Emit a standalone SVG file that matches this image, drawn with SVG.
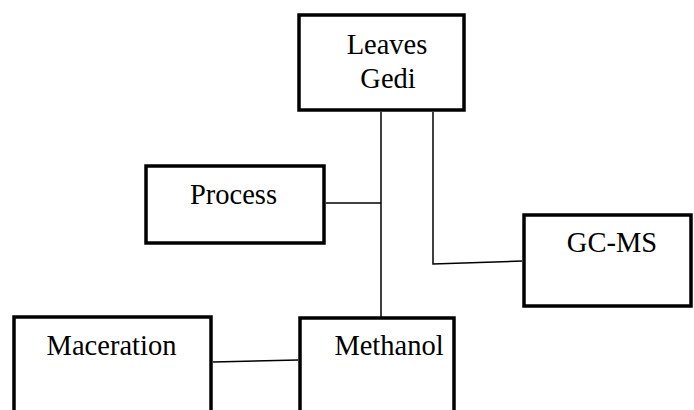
<svg xmlns="http://www.w3.org/2000/svg" width="694" height="410" viewBox="0 0 694 410">
<style>
.box{fill:#fff;stroke:#000;stroke-width:3.5}
.c{fill:none;stroke:#000;stroke-width:1.5}
.t{font-family:'Times New Roman','Liberation Serif',Tinos,serif;font-size:28.5px;fill:#000;text-anchor:middle}
</style>
<rect width="694" height="410" fill="#fff"/>
<g id="connectors">
<line class="c" x1="381" y1="112" x2="381" y2="317"/>
<polyline class="c" points="433,112 433,264 522,261"/>
<line class="c" x1="326" y1="203" x2="381" y2="203"/>
<line class="c" x1="213" y1="362" x2="298" y2="360"/>
</g>
<g id="leaves">
<rect class="box" x="299" y="15" width="165" height="95"/>
<text class="t" x="387" y="54">Leaves</text>
<text class="t" x="388" y="88">Gedi</text>
</g>
<g id="process">
<rect class="box" x="146" y="166" width="178" height="77"/>
<text class="t" x="233.5" y="204">Process</text>
</g>
<g id="gcms">
<rect class="box" x="524" y="215" width="167" height="91"/>
<text class="t" x="612" y="252">GC-MS</text>
</g>
<g id="maceration">
<rect class="box" x="14" y="317" width="197" height="100"/>
<text class="t" x="111.5" y="355">Maceration</text>
</g>
<g id="methanol">
<rect class="box" x="300" y="318" width="154" height="100"/>
<text class="t" x="389" y="355">Methanol</text>
</g>
</svg>
